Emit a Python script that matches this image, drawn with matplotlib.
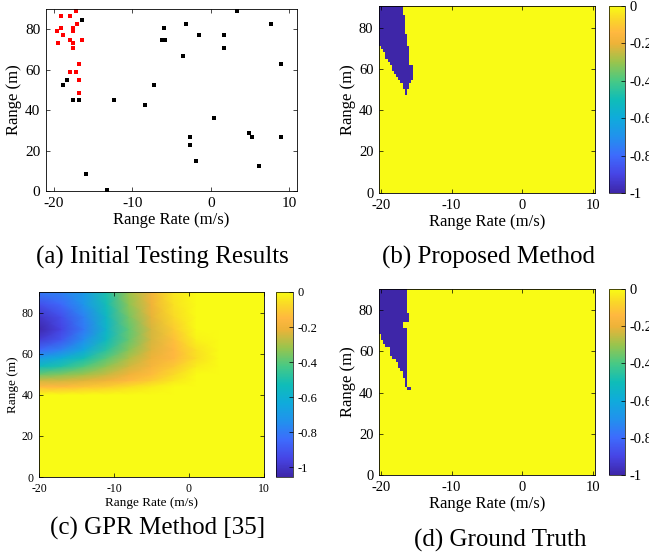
import numpy as np
import matplotlib.pyplot as plt
from matplotlib.colors import LinearSegmentedColormap

plt.rcParams['font.family'] = ['Liberation Serif', 'DejaVu Serif']
plt.rcParams['axes.unicode_minus'] = False
plt.rcParams['axes.linewidth'] = 0.6

# (a) initial testing results: red = flagged, black = others
red_x = [-19.15, -17.95, -17.14, -19.15, -19.57, -17.5, -17.5, -17.1, -18.8, -17.95,
         -16.37, -17.5, -19.53, -17.5, -16.75, -17.95, -17.14, -16.75, -16.75]
red_y = [86.7, 86.7, 88.9, 80.8, 78.9, 80.8, 78.9, 82.8, 76.9, 74.6,
         74.6, 73.0, 73.0, 70.8, 62.6, 58.7, 58.7, 54.8, 48.7]
black_x = [-16.37, -18.8, -18.38, -17.56, -16.75, -15.94, -13.25, -12.3, -8.38, -7.18,
           -5.94, -6.24, -5.85, -3.55, -3.16, -2.69, -2.69, -1.92, -1.5, 0.47,
           1.71, 1.71, 3.33, 4.87, 5.3, 6.11, 7.74, 8.93, 8.93]
black_y = [84.8, 52.6, 54.8, 44.8, 44.8, 8.5, 0.66, 44.8, 42.6, 52.6,
           80.8, 74.6, 74.6, 66.7, 82.8, 26.7, 22.6, 14.6, 76.9, 36.2,
           76.9, 70.8, 88.9, 28.7, 26.7, 12.6, 82.8, 62.6, 26.7]

# (b) proposed method: blue region, per band (bottom of band, left, right)
b_ylo = [48, 50, 51.5, 53, 54.5, 56, 57.5, 59, 60.5, 62, 63.5, 65, 66.5, 68, 69.5,
         72, 75, 78, 81, 84, 87]
b_left = [-16.7, -16.9, -17.1, -17.4, -17.6, -17.9, -18.1, -18.4, -18.6, -18.9, -19.1,
          -19.3, -19.5, -19.7, -19.9, -20.5, -20.5, -20.5, -20.5, -20.5, -20.5]
b_right = [-16.3, -16.1, -15.9, -15.7, -15.4, -15.4, -15.4, -15.4, -15.4, -15.9, -16.0,
           -16.0, -16.0, -16.0, -16.1, -16.3, -16.4, -16.55, -16.7, -16.8, -16.95]

# (d) ground truth
d_ylo = [41.5, 43, 46, 47.5, 49, 50.7, 52.3, 54.7, 56.4, 58, 60.4, 62, 64.4, 66,
         67.6, 71.6, 74.1, 78.1, 86]
d_left = [-16.2, -16.5, -16.7, -16.9, -17.05, -17.3, -17.65, -18.0, -18.35, -18.65,
          -18.9, -19.3, -19.6, -19.85, -20.5, -20.5, -20.5, -20.5, -20.5]
d_right = [-15.8, -16.2, -16.3, -16.4, -16.3, -16.3, -16.3, -16.3, -16.3, -16.3,
           -16.3, -16.3, -16.3, -16.3, -16.3, -17.0, -16.1, -16.4, -16.2]

# (c) GPR method, values read at coarse nodes
gpr_x = [-20, -17, -14, -11, -8, -5, -2, 1, 4, 10]
gpr_y = [0, 40, 44, 47, 50, 54, 58, 62, 67, 72, 78, 84, 90]
gpr_z = [
    [0, 0, 0, 0, 0, 0, 0, 0, 0, 0],
    [0, 0, 0, 0, 0, 0, 0, 0, 0, 0],
    [-0.15, -0.15, -0.12, -0.10, -0.06, -0.03, 0, 0, 0, 0],
    [-0.25, -0.25, -0.23, -0.20, -0.15, -0.10, -0.04, 0, 0, 0],
    [-0.38, -0.35, -0.31, -0.26, -0.20, -0.14, -0.07, 0, 0, 0],
    [-0.55, -0.50, -0.42, -0.33, -0.25, -0.18, -0.11, -0.03, 0, 0],
    [-0.70, -0.62, -0.52, -0.40, -0.29, -0.21, -0.15, -0.06, 0, 0],
    [-0.85, -0.78, -0.65, -0.48, -0.34, -0.23, -0.15, -0.05, 0, 0],
    [-0.98, -0.90, -0.75, -0.55, -0.38, -0.24, -0.13, -0.02, 0, 0],
    [-1.05, -0.95, -0.80, -0.58, -0.39, -0.24, -0.10, 0, 0, 0],
    [-1.00, -0.92, -0.78, -0.56, -0.36, -0.22, -0.07, 0, 0, 0],
    [-0.92, -0.85, -0.72, -0.52, -0.33, -0.20, -0.05, 0, 0, 0],
    [-0.80, -0.78, -0.70, -0.50, -0.31, -0.19, -0.04, 0, 0, 0],
]

cb_ticks = [-1, -0.8, -0.6, -0.4, -0.2, 0]
cb_labels = ['-1', '-0.8', '-0.6', '-0.4', '-0.2', '0']

parula = LinearSegmentedColormap.from_list('parula', [
    (0.00, (0.2422, 0.1504, 0.6603)), (0.10, (0.2760, 0.2700, 0.9000)),
    (0.20, (0.2400, 0.4200, 0.9900)), (0.30, (0.1300, 0.5700, 0.9300)),
    (0.40, (0.0600, 0.6700, 0.8600)), (0.50, (0.0600, 0.7400, 0.7200)),
    (0.60, (0.2800, 0.7900, 0.5200)), (0.70, (0.6000, 0.7700, 0.3000)),
    (0.80, (0.9300, 0.7000, 0.2200)), (0.86, (1.0000, 0.7200, 0.2500)),
    (0.93, (0.9800, 0.8400, 0.1600)), (1.00, (0.9769, 0.9839, 0.0805))])

W, H = 649, 558
fig = plt.figure(figsize=(W / 100, H / 100), dpi=100)


def box(l, t, r, b):
    return [l / W, 1 - b / H, (r - l) / W, (b - t) / H]


def style(ax, tsize, lsize):
    ax.tick_params(direction='in', top=True, right=True, length=3, width=0.5,
                   labelsize=tsize, pad=4)
    ax.set_xticks([-20, -10, 0, 10])
    ax.set_yticks([0, 20, 40, 60, 80])
    ax.set_xlabel('Range Rate (m/s)', fontsize=lsize, labelpad=2)
    ax.set_ylabel('Range (m)', fontsize=lsize, labelpad=2)


def region(ylo, left, right, ytop):
    xe = np.linspace(-20.28, 10.28, 102)
    ye = np.arange(-0.75, 91.5, 1.5)
    xc = (xe[:-1] + xe[1:]) / 2
    yc = (ye[:-1] + ye[1:]) / 2
    z = np.zeros((len(yc), len(xc)))
    for j, yv in enumerate(yc):
        if yv < ylo[0] or yv > ytop:
            continue
        k = np.searchsorted(ylo, yv, side='right') - 1
        z[j, (xc >= left[k]) & (xc <= right[k])] = -1
    return xe, ye, z


def colorbar(mesh, cax, size):
    cb = fig.colorbar(mesh, cax=cax, ticks=cb_ticks)
    cb.set_ticklabels(cb_labels)
    cb.outline.set_linewidth(0.5)
    cax.tick_params(direction='in', length=3, width=0.5, labelsize=size, pad=3)


# (a)
ax = fig.add_axes(box(46, 9, 297, 191))
ax.scatter(black_x, black_y, s=7, marker='s', color='black', linewidths=0)
ax.scatter(red_x, red_y, s=7, marker='s', color='red', linewidths=0)
ax.set_xlim(-21, 11)
ax.set_ylim(0, 90)
style(ax, 11, 12)

# (b)
ax = fig.add_axes(box(379, 6, 595, 193))
xe, ye, z = region(b_ylo, b_left, b_right, 91)
m = ax.pcolormesh(xe, ye, z, cmap=parula, vmin=-1, vmax=0)
ax.set_xlim(-20.28, 10.28)
ax.set_ylim(-0.2, 90.8)
style(ax, 10.5, 12)
colorbar(m, fig.add_axes(box(609, 6, 625, 193)), 10.5)

# (c)
ax = fig.add_axes(box(39, 292, 264, 477))
m = ax.pcolormesh(gpr_x, gpr_y, np.array(gpr_z), shading='gouraud', cmap=parula,
                  vmin=-1.055, vmax=0)
ax.set_xlim(-20, 10)
ax.set_ylim(0, 90)
style(ax, 8.5, 9.5)
colorbar(m, fig.add_axes(box(276, 292, 293, 477)), 9)

# (d)
ax = fig.add_axes(box(379, 289, 595, 475))
xe, ye, z = region(d_ylo, d_left, d_right, 91)
m = ax.pcolormesh(xe, ye, z, cmap=parula, vmin=-1, vmax=0)
ax.set_xlim(-20.28, 10.28)
ax.set_ylim(0, 90.2)
style(ax, 10.5, 12)
colorbar(m, fig.add_axes(box(609, 289, 625, 475)), 10.5)

# captions
fig.text(162 / W, 1 - 257 / H, '(a) Initial Testing Results', fontsize=18, ha='center', va='center')
fig.text(488 / W, 1 - 257 / H, '(b) Proposed Method', fontsize=18, ha='center', va='center')
fig.text(158 / W, 1 - 528 / H, '(c) GPR Method [35]', fontsize=18, ha='center', va='center')
fig.text(500 / W, 1 - 540 / H, '(d) Ground Truth', fontsize=18, ha='center', va='center')

fig.savefig('out.png', dpi=100)
